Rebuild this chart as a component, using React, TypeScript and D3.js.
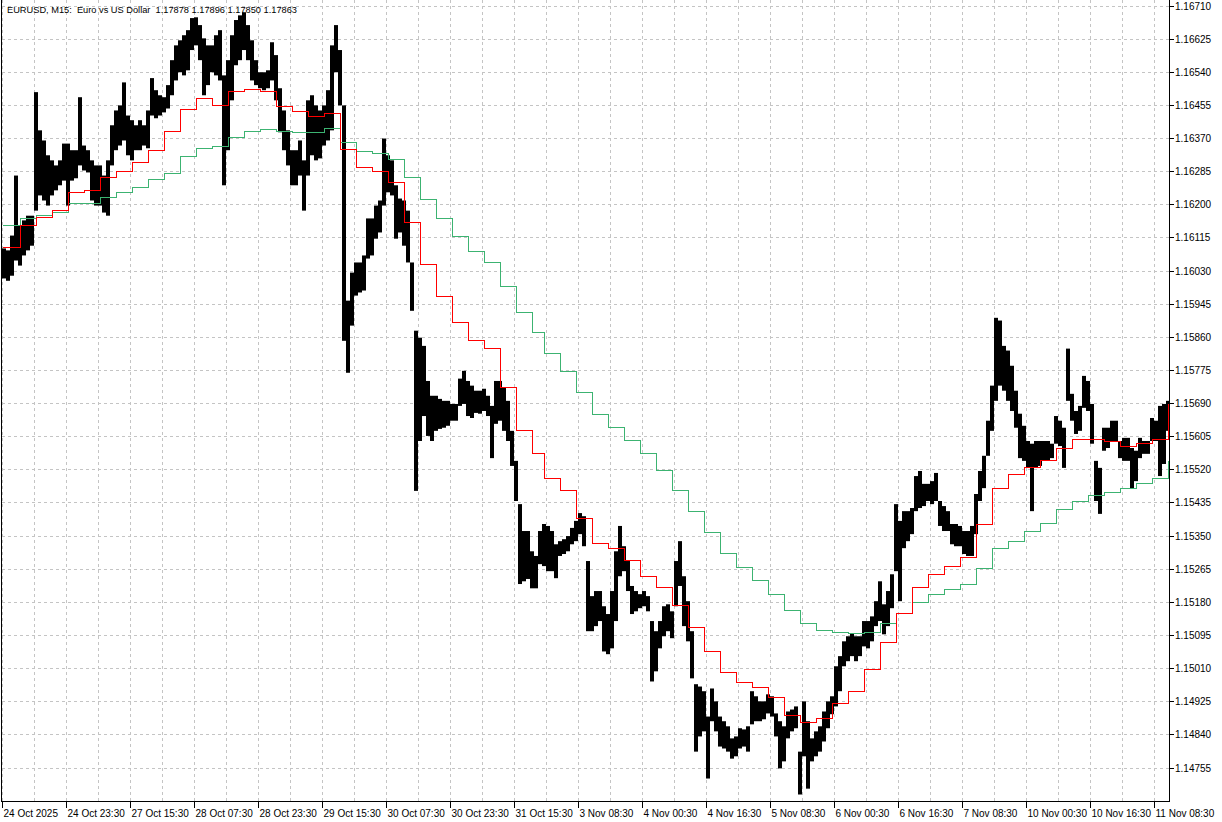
import React from 'react';
import * as d3 from 'd3';

const title = 'EURUSD, M15:  Euro vs US Dollar  1.17878 1.17896 1.17850 1.17863';

// M15 bars on the chart, server time (week by week)
const sessions: [string, string][] = [
  ['2025-10-24T07:30', '2025-10-24T23:45'],
  ['2025-10-27T00:00', '2025-10-31T22:45'],
  ['2025-11-03T00:00', '2025-11-07T23:45'],
  ['2025-11-10T00:00', '2025-11-11T12:00'],
];

// high / low of every 4 M15 bars
const priceHigh = [
  1.16088, 1.16083, 1.16121, 1.16275, 1.16147, 1.16160, 1.16172, 1.16172, 1.16489, 1.16391,
  1.16365, 1.16327, 1.16314, 1.16301, 1.16314, 1.16357, 1.16357, 1.16340, 1.16340, 1.16476,
  1.16352, 1.16340, 1.16314, 1.16301, 1.16301, 1.16275, 1.16314, 1.16404, 1.16442, 1.16455,
  1.16514, 1.16429, 1.16417, 1.16404, 1.16417, 1.16404, 1.16442, 1.16525, 1.16494, 1.16481,
  1.16476, 1.16507, 1.16571, 1.16609, 1.16622, 1.16635, 1.16648, 1.16679, 1.16681, 1.16661,
  1.16627, 1.16609, 1.16609, 1.16635, 1.16648, 1.16532, 1.16571, 1.16635, 1.16674, 1.16686,
  1.16694, 1.16661, 1.16622, 1.16571, 1.16540, 1.16540, 1.16545, 1.16617, 1.16584, 1.16499,
  1.16442, 1.16391, 1.16340, 1.16340, 1.16365, 1.16314, 1.16468, 1.16481, 1.16455, 1.16442,
  1.16455, 1.16494, 1.16609, 1.16661, 1.16597, 1.16455, 1.15954, 1.16026, 1.16052, 1.16052,
  1.16070, 1.16165, 1.16165, 1.16198, 1.16211, 1.16370, 1.16327, 1.16314, 1.16250, 1.16216,
  1.16211, 1.16185, 1.16052, 1.15877, 1.15859, 1.15838, 1.15748, 1.15710, 1.15710, 1.15702,
  1.15697, 1.15697, 1.15689, 1.15689, 1.15754, 1.15774, 1.15748, 1.15736, 1.15723, 1.15723,
  1.15728, 1.15710, 1.15684, 1.15748, 1.15748, 1.15730, 1.15697, 1.15620, 1.15543, 1.15432,
  1.15363, 1.15363, 1.15311, 1.15299, 1.15363, 1.15381, 1.15376, 1.15363, 1.15329, 1.15337,
  1.15342, 1.15350, 1.15371, 1.15389, 1.15409, 1.15401, 1.15286, 1.15196, 1.15209, 1.15209,
  1.15170, 1.15150, 1.15209, 1.15311, 1.15376, 1.15324, 1.15286, 1.15222, 1.15209, 1.15201,
  1.15209, 1.15196, 1.15132, 1.15106, 1.15132, 1.15170, 1.15175, 1.15157, 1.15286, 1.15337,
  1.15247, 1.15183, 1.15106, 1.14970, 1.14964, 1.14952, 1.14887, 1.14959, 1.14926, 1.14887,
  1.14875, 1.14862, 1.14831, 1.14836, 1.14857, 1.14854, 1.14862, 1.14952, 1.14939, 1.14926,
  1.14926, 1.14944, 1.14939, 1.14895, 1.14875, 1.14862, 1.14900, 1.14905, 1.14913, 1.14797,
  1.14926, 1.14875, 1.14831, 1.14849, 1.14862, 1.14900, 1.14926, 1.14939, 1.15016, 1.15042,
  1.15080, 1.15093, 1.15101, 1.15093, 1.15093, 1.15132, 1.15132, 1.15144, 1.15183, 1.15234,
  1.15175, 1.15209, 1.15252, 1.15432, 1.15389, 1.15414, 1.15414, 1.15422, 1.15504, 1.15517,
  1.15484, 1.15484, 1.15491, 1.15512, 1.15440, 1.15427, 1.15414, 1.15381, 1.15381, 1.15376,
  1.15363, 1.15363, 1.15376, 1.15458, 1.15517, 1.15556, 1.15646, 1.15736, 1.15910, 1.15903,
  1.15838, 1.15826, 1.15787, 1.15723, 1.15664, 1.15633, 1.15594, 1.15587, 1.15594, 1.15594,
  1.15594, 1.15594, 1.15587, 1.15658, 1.15646, 1.15628, 1.15831, 1.15715, 1.15671, 1.15684,
  1.15761, 1.15748, 1.15689, 1.15543, 1.15525, 1.15628, 1.15628, 1.15646, 1.15646, 1.15594,
  1.15602, 1.15602, 1.15576, 1.15569, 1.15602, 1.15594, 1.15594, 1.15653, 1.15646, 1.15684,
  1.15689, 1.15697,
];

const priceLow = [
  1.16011, 1.16005, 1.16018, 1.16057, 1.16044, 1.16070, 1.16083, 1.16095, 1.16185, 1.16224,
  1.16211, 1.16198, 1.16224, 1.16237, 1.16250, 1.16262, 1.16198, 1.16262, 1.16268, 1.16301,
  1.16288, 1.16283, 1.16211, 1.16198, 1.16198, 1.16180, 1.16172, 1.16301, 1.16340, 1.16352,
  1.16365, 1.16327, 1.16314, 1.16340, 1.16340, 1.16352, 1.16345, 1.16429, 1.16422, 1.16429,
  1.16437, 1.16447, 1.16481, 1.16519, 1.16540, 1.16532, 1.16545, 1.16597, 1.16609, 1.16571,
  1.16481, 1.16507, 1.16540, 1.16532, 1.16519, 1.16250, 1.16340, 1.16468, 1.16558, 1.16571,
  1.16597, 1.16571, 1.16519, 1.16507, 1.16499, 1.16494, 1.16499, 1.16519, 1.16468, 1.16386,
  1.16340, 1.16301, 1.16250, 1.16250, 1.16275, 1.16185, 1.16275, 1.16327, 1.16314, 1.16319,
  1.16352, 1.16365, 1.16391, 1.16540, 1.16455, 1.15851, 1.15769, 1.15890, 1.15967, 1.15975,
  1.15980, 1.16062, 1.16070, 1.16113, 1.16129, 1.16198, 1.16232, 1.16224, 1.16113, 1.16129,
  1.16095, 1.16052, 1.15928, 1.15466, 1.15594, 1.15658, 1.15607, 1.15594, 1.15620, 1.15625,
  1.15628, 1.15633, 1.15646, 1.15646, 1.15684, 1.15689, 1.15658, 1.15653, 1.15666, 1.15664,
  1.15671, 1.15658, 1.15550, 1.15638, 1.15646, 1.15620, 1.15594, 1.15530, 1.15440, 1.15227,
  1.15234, 1.15240, 1.15216, 1.15216, 1.15278, 1.15273, 1.15260, 1.15260, 1.15242, 1.15299,
  1.15304, 1.15311, 1.15329, 1.15337, 1.15355, 1.15324, 1.15106, 1.15106, 1.15119, 1.15132,
  1.15054, 1.15047, 1.15062, 1.15132, 1.15247, 1.15260, 1.15209, 1.15150, 1.15157, 1.15165,
  1.15170, 1.15157, 1.14977, 1.15003, 1.15062, 1.15093, 1.15106, 1.15088, 1.15170, 1.15222,
  1.15119, 1.15080, 1.14985, 1.14797, 1.14836, 1.14849, 1.14728, 1.14875, 1.14849, 1.14810,
  1.14805, 1.14797, 1.14779, 1.14785, 1.14805, 1.14810, 1.14797, 1.14867, 1.14875, 1.14875,
  1.14880, 1.14895, 1.14887, 1.14836, 1.14754, 1.14772, 1.14831, 1.14849, 1.14857, 1.14687,
  1.14785, 1.14702, 1.14772, 1.14785, 1.14797, 1.14823, 1.14857, 1.14893, 1.14913, 1.14952,
  1.15016, 1.15029, 1.15042, 1.15029, 1.15042, 1.15067, 1.15062, 1.15080, 1.15119, 1.15132,
  1.15098, 1.15119, 1.15165, 1.15260, 1.15183, 1.15319, 1.15337, 1.15355, 1.15414, 1.15422,
  1.15427, 1.15440, 1.15432, 1.15440, 1.15376, 1.15363, 1.15363, 1.15329, 1.15324, 1.15324,
  1.15304, 1.15299, 1.15299, 1.15355, 1.15440, 1.15473, 1.15556, 1.15620, 1.15697, 1.15736,
  1.15723, 1.15697, 1.15671, 1.15628, 1.15550, 1.15543, 1.15525, 1.15414, 1.15525, 1.15530,
  1.15543, 1.15543, 1.15550, 1.15587, 1.15581, 1.15525, 1.15697, 1.15646, 1.15612, 1.15620,
  1.15679, 1.15671, 1.15587, 1.15440, 1.15407, 1.15569, 1.15576, 1.15594, 1.15594, 1.15550,
  1.15543, 1.15543, 1.15473, 1.15491, 1.15550, 1.15561, 1.15561, 1.15594, 1.15594, 1.15504,
  1.15535, 1.15620,
];

// moving averages taken from H4, one value per H4 bar
const maFast = [
  1.16090, 1.16090, 1.16147, 1.16167, 1.16185, 1.16232, 1.16237, 1.16270, 1.16286, 1.16309,
  1.16340, 1.16388, 1.16445, 1.16473, 1.16455, 1.16491, 1.16496, 1.16491, 1.16453, 1.16440,
  1.16427, 1.16435, 1.16342, 1.16296, 1.16286, 1.16257, 1.16154, 1.16046, 1.15964, 1.15897,
  1.15851, 1.15831, 1.15730, 1.15622, 1.15563, 1.15499, 1.15466, 1.15394, 1.15332, 1.15319,
  1.15288, 1.15247, 1.15219, 1.15173, 1.15116, 1.15054, 1.15000, 1.14975, 1.14962, 1.14936,
  1.14890, 1.14872, 1.14882, 1.14921, 1.14952, 1.15008, 1.15078, 1.15152, 1.15219, 1.15252,
  1.15273, 1.15296, 1.15381, 1.15471, 1.15509, 1.15525, 1.15545, 1.15574, 1.15597, 1.15599,
  1.15592, 1.15581, 1.15587, 1.15599, 1.15689,
];

const maSlow = [
  1.16147, 1.16147, 1.16165, 1.16172, 1.16180, 1.16203, 1.16203, 1.16219, 1.16232, 1.16244,
  1.16265, 1.16280, 1.16324, 1.16345, 1.16350, 1.16373, 1.16388, 1.16393, 1.16388, 1.16386,
  1.16386, 1.16396, 1.16360, 1.16337, 1.16332, 1.16316, 1.16270, 1.16214, 1.16165, 1.16118,
  1.16080, 1.16052, 1.15990, 1.15923, 1.15872, 1.15818, 1.15771, 1.15718, 1.15661, 1.15628,
  1.15594, 1.15563, 1.15517, 1.15466, 1.15414, 1.15358, 1.15306, 1.15270, 1.15237, 1.15201,
  1.15160, 1.15126, 1.15108, 1.15103, 1.15101, 1.15103, 1.15126, 1.15152, 1.15180, 1.15201,
  1.15214, 1.15227, 1.15268, 1.15317, 1.15337, 1.15363, 1.15383, 1.15417, 1.15440, 1.15455,
  1.15463, 1.15471, 1.15484, 1.15499, 1.15543,
];

const priceLevels = [
  '1.16710', '1.16625', '1.16540', '1.16455', '1.16370', '1.16285', '1.16200', '1.16115',
  '1.16030', '1.15945', '1.15860', '1.15775', '1.15690', '1.15605', '1.15520', '1.15435',
  '1.15350', '1.15265', '1.15180', '1.15095', '1.15010', '1.14925', '1.14840', '1.14755',
];

const months = ['Jan', 'Feb', 'Mar', 'Apr', 'May', 'Jun', 'Jul', 'Aug', 'Sep', 'Oct', 'Nov', 'Dec'];

const W = 1222;
const H = 822;
const FONT = '"Liberation Sans", Arial, sans-serif';

function buildBars(): Date[] {
  const out: Date[] = [];
  sessions.forEach(([a, b]) => {
    const end = new Date(b + ':00Z').getTime();
    for (let t = new Date(a + ':00Z').getTime(); t <= end; t += 15 * 60000) out.push(new Date(t));
  });
  return out;
}

const pad = (n: number) => String(n).padStart(2, '0');

const App: React.FC = () => {
  const bars = buildBars();
  const n = bars.length;

  const x = d3.scaleLinear().domain([0, n - 1]).range([2.5, 2.5 + n - 1]);
  const y = d3.scaleLinear().domain([1.14755, 1.16710]).range([768, 6]);
  const crisp = (v: number) => Math.round(v - 0.5) + 0.5;

  const right = 1169.5;
  const bottom = 801.5;

  // H4 segments: index of the first M15 bar of each H4 bar
  const segStarts: number[] = [];
  let prevKey = '';
  bars.forEach((d, i) => {
    const key = d.toISOString().slice(0, 10) + '-' + Math.floor(d.getUTCHours() / 4);
    if (key !== prevKey) segStarts.push(i);
    prevKey = key;
  });

  const stepLine = (vals: number[]) => {
    const pts: [number, number][] = segStarts
      .slice(0, vals.length)
      .map((s, k) => [x(s), crisp(y(vals[k]))]);
    pts.push([x(n - 1), pts[pts.length - 1][1]]);
    return d3.line().curve(d3.curveStepAfter)(pts) || '';
  };

  const timeLabel = (i: number) => {
    const d = bars[i];
    const day = `${d.getUTCDate()} ${months[d.getUTCMonth()]}`;
    return i === 0 ? `${day} ${d.getUTCFullYear()}` : `${day} ${pad(d.getUTCHours())}:${pad(d.getUTCMinutes())}`;
  };

  const labelIdx = d3.range(0, n, 64);
  const gridIdx = d3.range(0, n, 32);

  return (
    <svg
      width={W}
      height={H}
      style={{ position: 'absolute', left: 0, top: 0, background: '#fff' }}
      fontFamily={FONT}
      fontSize={10}
    >
      {/* grid */}
      <g stroke="#c4c4c4" strokeDasharray="3,3" shapeRendering="crispEdges">
        {priceLevels.map((p) => (
          <line key={p} x1={2} x2={right} y1={crisp(y(+p))} y2={crisp(y(+p))} />
        ))}
        {gridIdx.map((i) => (
          <line key={i} x1={x(i)} x2={x(i)} y1={0} y2={bottom} />
        ))}
      </g>

      {/* price, one block per 4 M15 bars */}
      <g fill="#000">
        {priceHigh.map((hi, k) => {
          const i0 = k * 4;
          const w = Math.min(4, n - i0);
          const top = y(hi);
          const h = Math.max(1, y(priceLow[k]) - top);
          return <rect key={k} x={x(i0) - 0.5} y={top} width={w} height={h} />;
        })}
      </g>

      {/* H4 moving averages */}
      <path d={stepLine(maSlow)} fill="none" stroke="#3cb371" strokeWidth={1} shapeRendering="crispEdges" />
      <path d={stepLine(maFast)} fill="none" stroke="#ff0000" strokeWidth={1} shapeRendering="crispEdges" />

      {/* frame */}
      <g stroke="#000" shapeRendering="crispEdges">
        <line x1={1.5} x2={1.5} y1={0} y2={bottom} />
        <line x1={right} x2={right} y1={0} y2={bottom} />
        <line x1={1.5} x2={right} y1={bottom} y2={bottom} />
      </g>

      {/* right price axis */}
      <g>
        {priceLevels.map((p) => (
          <g key={p} transform={`translate(0,${crisp(y(+p))})`}>
            <line x1={right} x2={right + 4} stroke="#000" shapeRendering="crispEdges" />
            <text x={1175} dy="0.35em" fill="#000">{p}</text>
          </g>
        ))}
      </g>

      {/* time axis */}
      <g>
        {labelIdx.map((i) => (
          <g key={i}>
            <line x1={x(i)} x2={x(i)} y1={bottom} y2={bottom + 6} stroke="#000" shapeRendering="crispEdges" />
            <text x={x(i) + 1} y={817} fill="#000">{timeLabel(i)}</text>
          </g>
        ))}
      </g>

      <text x={7} y={13} fill="#000" fontSize={9.25} style={{ whiteSpace: 'pre' }}>{title}</text>
    </svg>
  );
};

export default App;
